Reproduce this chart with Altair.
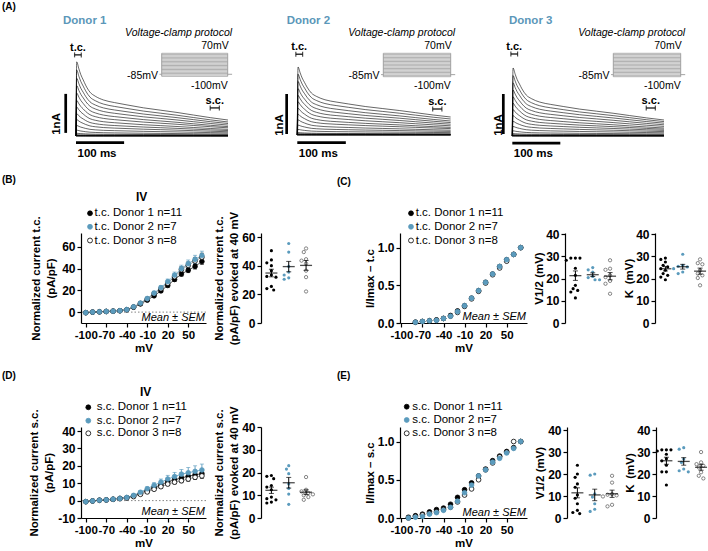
import altair as alt
import pandas as pd

FONT = "Liberation Sans"
BLUE = "#5b9bbd"
TITLE_BLUE = "#5b97b9"
PROTO_GREY = "#9a9a9a"

# ---------------- (A) current families, one per donor ----------------
SWEEP_MV = [-100, -90, -80, -70, -60, -50, -40, -30, -20, -10, 0, 10, 20, 30, 40, 50, 60, 70]
HOLD_MV = -85
STEP_MS = 300
PRE_MS = 10
POST_MS = 20

# peak (transient) and end-of-step (sustained) current of every sweep, nA
D1_PEAK_NA = [0.00, 0.00, 0.01, 0.01, 0.02, 0.03, 0.07, 0.15, 0.27, 0.42, 0.57, 0.74, 0.91, 1.10, 1.29, 1.48, 1.69, 1.90]
D1_END_NA = [0.00, 0.00, 0.00, 0.01, 0.01, 0.02, 0.03, 0.05, 0.08, 0.11, 0.14, 0.17, 0.21, 0.24, 0.28, 0.32, 0.36, 0.41]
D2_PEAK_NA = [0.00, 0.00, 0.01, 0.01, 0.02, 0.03, 0.06, 0.14, 0.25, 0.38, 0.52, 0.67, 0.83, 0.99, 1.16, 1.34, 1.52, 1.70]
D2_END_NA = [0.00, 0.00, 0.00, 0.01, 0.01, 0.02, 0.03, 0.06, 0.09, 0.12, 0.16, 0.19, 0.23, 0.27, 0.31, 0.35, 0.40, 0.45]
D3_PEAK_NA = [0.00, 0.00, 0.01, 0.01, 0.02, 0.03, 0.06, 0.13, 0.24, 0.37, 0.51, 0.66, 0.82, 0.98, 1.15, 1.33, 1.51, 1.70]
D3_END_NA = [0.00, 0.00, 0.00, 0.01, 0.01, 0.02, 0.03, 0.05, 0.08, 0.11, 0.14, 0.17, 0.20, 0.24, 0.28, 0.32, 0.36, 0.40]

# inactivation time course (fraction of the decaying part left), ms
DECAY_MS = [1.5, 6, 10, 15, 20, 29, 40, 57, 80, 106, 140, 175, 210, 244, 280, 316]
DECAY_FRAC = [1.0, 0.88, 0.78, 0.69, 0.60, 0.48, 0.41, 0.345, 0.30, 0.26, 0.21, 0.17, 0.13, 0.086, 0.04, 0.0]

TC_WINDOW_MS = [-3, 11]
SC_WINDOW_MS = [279, 298]
BAR_MS = 100
BAR_NA = 1

# ---------------- (B)/(D) current density vs voltage ----------------
IV_MV = SWEEP_MV
MV_TICKS = [-100, -70, -40, -10, 20, 50]

TC_IV_D1 = [-0.5, 0.0, 0.3, 0.6, 0.9, 1.3, 2.2, 4.5, 7.5, 11.0, 15.0, 19.5, 24.5, 30.0, 35.0, 38.5, 42.0, 46.5]
TC_IV_D2 = [-0.5, 0.0, 0.3, 0.6, 0.9, 1.3, 2.3, 4.9, 8.3, 12.5, 17.5, 22.5, 28.0, 34.0, 40.0, 44.5, 48.5, 52.0]
TC_IV_D3 = [-0.5, 0.0, 0.3, 0.6, 0.9, 1.3, 2.2, 4.7, 8.0, 12.0, 17.0, 21.5, 26.5, 32.5, 39.0, 43.0, 47.0, 50.5]
TC_SEM_D1 = [0.2, 0.2, 0.2, 0.2, 0.2, 0.2, 0.3, 0.5, 0.7, 0.9, 1.1, 1.3, 1.5, 1.8, 2.0, 2.2, 2.4, 2.6]
TC_SEM_D2 = [0.2, 0.2, 0.2, 0.2, 0.2, 0.3, 0.4, 0.7, 1.0, 1.3, 1.7, 2.0, 2.4, 2.8, 3.1, 3.4, 3.7, 4.0]
TC_SEM_D3 = [0.2, 0.2, 0.2, 0.2, 0.2, 0.3, 0.4, 0.6, 0.9, 1.2, 1.5, 1.8, 2.1, 2.4, 2.7, 3.0, 3.3, 3.6]

SC_IV_D1 = [-0.6, -0.2, 0.2, 0.4, 0.8, 1.3, 1.7, 2.7, 4.2, 5.8, 7.5, 9.0, 10.8, 12.0, 13.0, 14.0, 14.8, 15.5]
SC_IV_D2 = [-0.6, -0.2, 0.2, 0.4, 0.8, 1.2, 1.8, 3.0, 4.8, 6.8, 8.8, 10.6, 12.4, 13.8, 15.2, 16.0, 16.8, 17.6]
SC_IV_D3 = [-0.6, -0.2, 0.2, 0.4, 0.7, 1.1, 1.5, 2.3, 3.6, 5.0, 6.5, 8.0, 9.5, 10.6, 11.4, 12.4, 13.4, 14.2]
SC_SEM_D1 = [0.2, 0.2, 0.2, 0.2, 0.2, 0.2, 0.3, 0.4, 0.5, 0.6, 0.7, 0.8, 0.9, 1.0, 1.1, 1.2, 1.3, 1.4]
SC_SEM_D2 = [0.2, 0.2, 0.2, 0.2, 0.2, 0.2, 0.4, 0.6, 0.9, 1.2, 1.5, 1.8, 2.1, 2.4, 2.7, 3.0, 3.2, 3.4]
SC_SEM_D3 = [0.2, 0.2, 0.2, 0.2, 0.2, 0.2, 0.3, 0.4, 0.5, 0.6, 0.7, 0.8, 0.9, 1.0, 1.1, 1.2, 1.3, 1.4]

# ---------------- (C)/(E) normalised activation ----------------
TC_NORM_MV = [-80, -70, -60, -50, -40, -30, -20, -10, 0, 10, 20, 30, 40, 50, 60, 70]
TC_NORM_D1 = [0.01, 0.02, 0.03, 0.04, 0.06, 0.10, 0.16, 0.23, 0.33, 0.43, 0.54, 0.65, 0.75, 0.84, 0.91, 1.00]
TC_NORM_D2 = [0.01, 0.02, 0.03, 0.035, 0.06, 0.09, 0.15, 0.23, 0.33, 0.43, 0.54, 0.65, 0.75, 0.84, 0.91, 1.00]
TC_NORM_D3 = [0.01, 0.02, 0.03, 0.04, 0.06, 0.09, 0.14, 0.22, 0.32, 0.42, 0.53, 0.64, 0.73, 0.82, 0.91, 1.00]

SC_NORM_MV = [-90, -80, -70, -60, -50, -40, -30, -20, -10, 0, 10, 20, 30, 40, 50, 60, 70]
SC_NORM_D1 = [0.01, 0.03, 0.05, 0.08, 0.11, 0.13, 0.18, 0.27, 0.37, 0.46, 0.55, 0.64, 0.75, 0.81, 0.87, 0.92, 1.00]
SC_NORM_D2 = [0.00, 0.01, 0.02, 0.05, 0.07, 0.10, 0.14, 0.22, 0.33, 0.43, 0.55, 0.63, 0.73, 0.78, 0.85, 0.91, 1.00]
SC_NORM_D3 = [0.00, 0.02, 0.04, 0.06, 0.08, 0.11, 0.14, 0.21, 0.30, 0.38, 0.50, 0.63, 0.72, 0.80, 0.86, 1.00, 1.00]

# ---------------- per-cell values ----------------
TC40_D1 = [50.5, 44.0, 42.0, 40.0, 36.5, 33.5, 32.5, 32.0, 25.5, 24.0, 23.0]
TC40_D2 = [55.5, 49.5, 39.5, 35.5, 33.5, 31.5, 30.5]
TC40_D3 = [52.0, 49.5, 44.5, 43.5, 41.5, 36.5, 32.0, 22.0]
TC_V12_D1 = [29.3, 29.3, 29.3, 28.3, 24.7, 21.5, 17.0, 15.5, 14.7, 14.0, 11.3]
TC_V12_D2 = [25.0, 24.0, 23.0, 21.0, 19.5, 19.5, 20.5]
TC_V12_D3 = [28.3, 24.5, 24.0, 21.5, 20.7, 19.0, 17.7, 13.2]
TC_K_D1 = [29.3, 28.7, 27.5, 26.0, 25.3, 24.5, 23.8, 22.3, 21.5, 20.7, 19.5]
TC_K_D2 = [31.0, 26.0, 25.6, 25.3, 24.5, 23.0, 22.3]
TC_K_D3 = [28.7, 27.0, 26.5, 23.8, 22.3, 21.5, 20.3, 17.0]

SC40_D1 = [18.7, 18.3, 17.3, 14.3, 13.6, 12.4, 9.2, 8.5, 8.0, 7.0, 6.6]
SC40_D2 = [23.0, 21.5, 19.5, 15.0, 13.0, 10.5, 6.0]
SC40_D3 = [18.0, 12.4, 11.7, 11.0, 10.4, 10.0, 9.2, 8.0]
SC_V12_D1 = [24.0, 20.0, 18.5, 15.5, 14.0, 10.5, 9.0, 6.5, 3.5, 2.5, 2.0]
SC_V12_D2 = [20.0, 19.5, 11.0, 9.5, 6.5, 4.0, 3.0]
SC_V12_D3 = [19.2, 16.1, 10.9, 10.6, 10.3, 9.8, 6.0, 5.3]
SC_K_D1 = [31.0, 31.0, 31.0, 30.5, 29.0, 27.0, 26.0, 24.0, 21.0, 21.0, 15.0]
SC_K_D2 = [32.0, 31.3, 26.8, 25.3, 22.3, 21.5, 21.0]
SC_K_D3 = [30.0, 25.3, 24.5, 23.8, 23.0, 20.8, 19.2, 18.0]

DUMMY = pd.DataFrame({"k": [0]})
DONOR_FILL = {1: "black", 2: BLUE, 3: "white"}
DONOR_EDGE = {1: "black", 2: BLUE, 3: "black"}
DONOR_LINE = {1: "#222222", 2: BLUE, 3: "#888888"}
PLAIN_NUMBER = "datum.value"   # hyphen-minus instead of the typographic minus


def label(text, x, y, size=12, weight="bold", align="left", baseline="middle",
          color="black", style="normal", angle=None):
    kw = dict(text=text, font=FONT, fontSize=size, fontWeight=weight, align=align,
              baseline=baseline, color=color, fontStyle=style)
    if angle is not None:
        kw["angle"] = angle
    return alt.Chart(DUMMY).mark_text(**kw).encode(x=alt.value(x), y=alt.value(y))


def frame(box):
    """Invisible rectangle that fixes the footprint of a panel in the layout."""
    x0, x1, y0, y1 = box
    return alt.Chart(DUMMY).mark_rect(opacity=0).encode(
        x=alt.value(x0), x2=alt.value(x1), y=alt.value(y0), y2=alt.value(y1))


def lead_cell():
    return alt.layer(frame([0, 1, 0, 1])).properties(width=1, height=1)


# ---------------- trace panels ----------------
TRACE_LAYOUT = {
    1: dict(xdom=[-158.0, 332.6], ydom=[-0.615, 3.487], hbar=-0.172, vbar_t=-21.4, vbar_y=0.08,
            na_t=-39.5, na_y=0.31, ms_y=-0.46, tc_y=2.08, sc_y=0.72, title_x=63,
            inset_x=[161.7, 227.7], inset_y=[76.3, 53.3]),
    2: dict(xdom=[-126.3, 360.0], ydom=[-0.625, 3.375], hbar=-0.19, vbar_t=-21.9, vbar_y=0.025,
            na_t=-35.7, na_y=0.25, ms_y=-0.475, tc_y=2.02, sc_y=0.65, title_x=50.7,
            inset_x=[147.3, 214.7], inset_y=[76.7, 53.3]),
    3: dict(xdom=[-84.0, 407.7], ydom=[-0.6, 3.4], hbar=-0.18, vbar_t=-18.75, vbar_y=0.05,
            na_t=-27.0, na_y=0.275, ms_y=-0.45, tc_y=2.05, sc_y=0.70, title_x=37,
            inset_x=[141.3, 208.7], inset_y=[76.7, 53.3]),
}


def trace_panel(donor, peaks, ends):
    cfg = TRACE_LAYOUT[donor]
    xs = alt.Scale(domain=cfg["xdom"], nice=False, zero=False)
    ys = alt.Scale(domain=cfg["ydom"], nice=False, zero=False)

    def X(f):
        return alt.X(f, scale=xs, axis=None)

    def Y(f):
        return alt.Y(f, scale=ys, axis=None)

    rows = []
    for mv, pk, en in zip(SWEEP_MV, peaks, ends):
        rows.append({"sweep": mv, "t": 0.0, "i": 0.0})
        for t, f in zip(DECAY_MS, DECAY_FRAC):
            rows.append({"sweep": mv, "t": t, "i": en + (pk - en) * f})
    tr = pd.DataFrame(rows)
    traces = alt.Chart(tr).mark_line(color="black", strokeWidth=0.6, interpolate="monotone").encode(
        x=X("t:Q"), y=Y("i:Q"), detail="sweep:N", order="t:Q")

    hb = pd.DataFrame({"t0": [0], "t1": [BAR_MS], "y": [cfg["hbar"]]})
    hbar = alt.Chart(hb).mark_rule(color="black", strokeWidth=2.7).encode(x=X("t0:Q"), x2="t1:Q", y=Y("y:Q"))
    vb = pd.DataFrame({"t": [cfg["vbar_t"]], "y0": [cfg["vbar_y"]], "y1": [cfg["vbar_y"] + BAR_NA]})
    vbar = alt.Chart(vb).mark_rule(color="black", strokeWidth=2.7).encode(x=X("t:Q"), y=Y("y0:Q"), y2="y1:Q")
    na_lab = alt.Chart(pd.DataFrame({"t": [cfg["na_t"]], "y": [cfg["na_y"]], "s": [f"{BAR_NA}nA"]})).mark_text(
        font=FONT, fontSize=11.5, fontWeight="bold", angle=270, align="center", baseline="middle").encode(
        x=X("t:Q"), y=Y("y:Q"), text="s:N")
    ms_lab = alt.Chart(pd.DataFrame({"t": [0], "y": [cfg["ms_y"]], "s": [f"{BAR_MS} ms"]})).mark_text(
        font=FONT, fontSize=11.5, fontWeight="bold", align="left", baseline="middle", dx=1.5).encode(
        x=X("t:Q"), y=Y("y:Q"), text="s:N")

    win = pd.DataFrame({"t0": [TC_WINDOW_MS[0], SC_WINDOW_MS[0]], "t1": [TC_WINDOW_MS[1], SC_WINDOW_MS[1]],
                        "y": [cfg["tc_y"], cfg["sc_y"]], "s": ["t.c.", "s.c."]})
    win["tm"] = (win["t0"] + win["t1"]) / 2
    wrule = alt.Chart(win).mark_rule(color="black", strokeWidth=1.2).encode(x=X("t0:Q"), x2="t1:Q", y=Y("y:Q"))
    wcap0 = alt.Chart(win).mark_tick(orient="vertical", size=5, thickness=1.2, color="black").encode(
        x=X("t0:Q"), y=Y("y:Q"))
    wcap1 = alt.Chart(win).mark_tick(orient="vertical", size=5, thickness=1.2, color="black").encode(
        x=X("t1:Q"), y=Y("y:Q"))
    wtxt = alt.Chart(win).mark_text(font=FONT, fontSize=11, fontWeight="bold", dy=-7).encode(
        x=X("tm:Q"), y=Y("y:Q"), text="s:N")

    main_layers = [frame([0, 236, 0, 160]), traces, hbar, vbar, na_lab, ms_lab, wrule, wcap0, wcap1, wtxt,
                   label(f"Donor {donor}", cfg["title_x"], 21, size=11.5, color=TITLE_BLUE)]
    if donor == 1:
        main_layers.append(label("(A)", 2, 7, size=10))
    main = alt.layer(*main_layers)

    # voltage-clamp protocol schematic
    ixs = alt.Scale(domain=[0, STEP_MS], range=cfg["inset_x"], nice=False, zero=False)
    iys = alt.Scale(domain=[min(SWEEP_MV), max(SWEEP_MV)], range=cfg["inset_y"], nice=False, zero=False)

    def IX(f):
        return alt.X(f, scale=ixs, axis=None)

    def IY(f):
        return alt.Y(f, scale=iys, axis=None)

    steps = pd.DataFrame([{"mv": v, "t": t} for v in SWEEP_MV for t in (0, STEP_MS)])
    step_lines = alt.Chart(steps).mark_line(color=PROTO_GREY, strokeWidth=0.8).encode(
        x=IX("t:Q"), y=IY("mv:Q"), detail="mv:N")
    edges = alt.Chart(pd.DataFrame({"t": [0, STEP_MS], "lo": [min(SWEEP_MV)] * 2, "hi": [max(SWEEP_MV)] * 2})).mark_rule(
        color=PROTO_GREY, strokeWidth=0.9).encode(x=IX("t:Q"), y=IY("lo:Q"), y2="hi:Q")
    hold = pd.DataFrame({"t": [-PRE_MS, 0, STEP_MS, STEP_MS + POST_MS], "mv": [HOLD_MV] * 4, "seg": [0, 0, 1, 1]})
    hold_lines = alt.Chart(hold).mark_line(color=PROTO_GREY, strokeWidth=0.9).encode(
        x=IX("t:Q"), y=IY("mv:Q"), detail="seg:N")

    def ptext(s, t, mv, align, dx=0, dy=0, style="normal"):
        return alt.Chart(pd.DataFrame({"t": [t], "mv": [mv], "s": [s]})).mark_text(
            font=FONT, fontSize=10.5, align=align, baseline="middle", dx=dx, dy=dy, fontStyle=style).encode(
            x=IX("t:Q"), y=IY("mv:Q"), text="s:N")

    inset = alt.layer(
        step_lines, edges, hold_lines,
        ptext(f"{max(SWEEP_MV)}mV", STEP_MS, max(SWEEP_MV), "right", dx=1, dy=-7),
        ptext(f"{min(SWEEP_MV)}mV", STEP_MS, min(SWEEP_MV), "right", dy=9.5),
        ptext(f"{HOLD_MV}mV", -PRE_MS, HOLD_MV, "right", dx=-1.5, dy=1.5),
        ptext("Voltage-clamp protocol", STEP_MS + POST_MS, max(SWEEP_MV), "right", dy=-20, style="italic"),
    )
    return alt.layer(main, inset).resolve_scale(x="independent", y="independent").properties(
        width=236, height=160)


# ---------------- IV panels ----------------
def iv_panel(cfg, mv, series, sems, ytitle, names):
    xs = alt.Scale(domain=cfg["xdom"], nice=False, zero=False)
    ys = alt.Scale(domain=cfg["ydom"], nice=False, zero=False)
    xax = alt.Axis(values=MV_TICKS, title="mV", titlePadding=cfg.get("xtp", 2), labelFontSize=11.5,
                   labelExpr=PLAIN_NUMBER)
    if cfg["yfmt"] == "d":
        yax = alt.Axis(values=cfg["yticks"], labelExpr=PLAIN_NUMBER, title=ytitle,
                       titlePadding=cfg["ytp"], titleLineHeight=15)
    else:
        yax = alt.Axis(values=cfg["yticks"], format=cfg["yfmt"], title=ytitle,
                       titlePadding=cfg["ytp"], titleLineHeight=15)

    def X(f):
        return alt.X(f, scale=xs, axis=xax)

    def Y(f):
        return alt.Y(f, scale=ys, axis=yax)

    layers = [frame(cfg["box"])]
    if cfg["zero"]:
        layers.append(alt.Chart(pd.DataFrame({"z": [0]})).mark_rule(
            color="#777777", strokeDash=[1.5, 2], strokeWidth=0.9).encode(y=Y("z:Q")))
    frames = {}
    for k in (1, 2, 3):
        df = pd.DataFrame({"mv": mv, "m": series[k - 1]})
        if sems is not None:
            df["lo"] = [a - b for a, b in zip(series[k - 1], sems[k - 1])]
            df["hi"] = [a + b for a, b in zip(series[k - 1], sems[k - 1])]
        frames[k] = df
    if cfg["lines"]:
        for k in (1, 2, 3):
            layers.append(alt.Chart(frames[k]).mark_line(color=DONOR_LINE[k], strokeWidth=0.8).encode(
                x=X("mv:Q"), y=Y("m:Q")))
    if sems is not None:
        for k in (1, 3, 2):
            col = BLUE if k == 2 else "black"
            layers.append(alt.Chart(frames[k]).mark_rule(color=col, strokeWidth=0.9).encode(
                x=X("mv:Q"), y=Y("lo:Q"), y2="hi:Q"))
            for f in ("lo", "hi"):
                layers.append(alt.Chart(frames[k]).mark_tick(orient="horizontal", size=4, thickness=0.9,
                                                             color=col).encode(x=X("mv:Q"), y=Y(f"{f}:Q")))
    for k in (1, 3, 2):
        layers.append(alt.Chart(frames[k]).mark_circle(size=22, opacity=1, fill=DONOR_FILL[k],
                                                       stroke=DONOR_EDGE[k], strokeWidth=0.8).encode(
            x=X("mv:Q"), y=Y("m:Q")))
    # legend
    sx, tx = cfg["leg_x"]
    for k, ly in zip((1, 2, 3), cfg["leg_y"]):
        layers.append(alt.Chart(DUMMY).mark_circle(size=24, opacity=1, fill=DONOR_FILL[k],
                                                   stroke=DONOR_EDGE[k], strokeWidth=0.8).encode(
            x=alt.value(sx), y=alt.value(ly)))
        layers.append(label(names[k - 1], tx, ly, size=11.5, weight="normal"))
    layers.append(label("Mean \u00b1 SEM", cfg["w"] - 1, cfg["mean_y"], size=11, weight="normal",
                        align="right", style="italic"))
    if "iv" in cfg:
        layers.append(label("IV", cfg["iv"][0], cfg["iv"][1], size=12, align="center"))
    layers.append(label(cfg["letter"], cfg["letter_xy"][0], cfg["letter_xy"][1], size=10))
    return alt.layer(*layers).properties(width=cfg["w"], height=cfg["h"])


# ---------------- per-cell scatter panels ----------------
GROUP_DOM = [-0.6, 2.4]
SCATTER_W = 52


def swarm_offsets(values, y_px, x_px, diam=3.8):
    order = sorted(range(len(values)), key=lambda i: -values[i])
    placed = []
    offsets = [0.0] * len(values)
    for i in order:
        y = values[i] * y_px
        x = 0.0
        for k in (0, -1, 1, -2, 2, -3, 3, -4, 4):
            x = k * diam * 0.6
            if all((x - px) ** 2 + (y - py) ** 2 >= diam ** 2 for px, py in placed):
                break
        placed.append((x, y))
        offsets[i] = x / x_px
    return offsets


def scatter_panel(cfg, groups, ytitle):
    xs = alt.Scale(domain=GROUP_DOM, nice=False, zero=False)
    ys = alt.Scale(domain=cfg["ydom"], nice=False, zero=False)
    yax = alt.Axis(values=cfg["yticks"], format="d", title=ytitle, titlePadding=cfg["ytp"], titleLineHeight=15)
    y_px = cfg["h"] / (cfg["ydom"][1] - cfg["ydom"][0])
    x_px = SCATTER_W / (GROUP_DOM[1] - GROUP_DOM[0])

    def X(f):
        return alt.X(f, scale=xs, axis=None)

    def Y(f):
        return alt.Y(f, scale=ys, axis=yax)

    layers = [frame(cfg["box"])]
    stats = []
    for g, vals in enumerate(groups):
        offs = swarm_offsets(vals, y_px, x_px)
        df = pd.DataFrame({"x": [g + o for o in offs], "v": vals})
        k = g + 1
        if k == 3:
            mk = alt.Chart(df).mark_circle(size=11, opacity=1, fill="white", stroke="#555555", strokeWidth=0.7)
        else:
            mk = alt.Chart(df).mark_circle(size=10, opacity=1, color=DONOR_FILL[k])
        layers.append(mk.encode(x=X("x:Q"), y=Y("v:Q")))
        n = len(vals)
        m = sum(vals) / n
        sd = (sum((v - m) ** 2 for v in vals) / (n - 1)) ** 0.5
        stats.append({"g": g, "m": m, "lo": m - sd / n ** 0.5, "hi": m + sd / n ** 0.5})
    st = pd.DataFrame(stats)
    layers.append(alt.Chart(st).mark_rule(color="black", strokeWidth=1).encode(x=X("g:Q"), y=Y("lo:Q"), y2="hi:Q"))
    for f in ("lo", "hi"):
        layers.append(alt.Chart(st).mark_tick(orient="horizontal", size=5, thickness=1, color="black").encode(
            x=X("g:Q"), y=Y(f"{f}:Q")))
    layers.append(alt.Chart(st).mark_tick(orient="horizontal", size=12, thickness=1.3, color="black").encode(
        x=X("g:Q"), y=Y("m:Q")))
    return alt.layer(*layers).properties(width=SCATTER_W, height=cfg["h"])


def legend_names(prefix, groups):
    return [f"{prefix} Donor {i + 1} n={len(g)}" for i, g in enumerate(groups)]


# ---------------- row A ----------------
row_a = alt.hconcat(
    trace_panel(1, D1_PEAK_NA, D1_END_NA),
    trace_panel(2, D2_PEAK_NA, D2_END_NA),
    trace_panel(3, D3_PEAK_NA, D3_END_NA),
    spacing=0,
)

# ---------------- row B/C (transient current) ----------------
tc_groups = [TC40_D1, TC40_D2, TC40_D3]
B_IV = iv_panel(
    dict(xdom=[-107, 76], ydom=[-10, 72.7], w=125, h=90, yticks=[0, 20, 40, 60], yfmt="d", ytp=5,
         box=[-80, 129, -73, 124], zero=True, lines=True, leg_x=(9, 13.5), leg_y=[-19.7, -6.2, 7.5],
         mean_y=85.3, iv=(60.7, -36.3), letter="(B)", letter_xy=(-79, -53)),
    IV_MV, [TC_IV_D1, TC_IV_D2, TC_IV_D3], [TC_SEM_D1, TC_SEM_D2, TC_SEM_D3],
    ["Normalized current t.c.", "(pA/pF)"], legend_names("t.c.", tc_groups))
B_SC = scatter_panel(dict(ydom=[0, 62.8], h=90, yticks=[0, 20, 40, 60], ytp=2, box=[-51, 74, -73, 124]),
                     tc_groups, ["Normalized current t.c.", "(pA/pF) evoked at 40 mV"])
C_IV = iv_panel(
    dict(xdom=[-102, 79], ydom=[0, 1.194], w=127, h=90, yticks=[0, 0.5, 1.0], yfmt=".1f", ytp=2,
         box=[-65, 132, -73, 124], zero=False, lines=False, leg_x=(11, 15.7), leg_y=[-19.7, -6.2, 7.5],
         mean_y=83.7, letter="(C)", letter_xy=(-63, -51.3)),
    TC_NORM_MV, [TC_NORM_D1, TC_NORM_D2, TC_NORM_D3], None,
    "I/Imax \u2013 t.c", legend_names("t.c.", tc_groups))
C_V = scatter_panel(dict(ydom=[0, 40.6], h=90, yticks=[0, 10, 20, 30, 40], ytp=1, box=[-33, 57, -73, 124]),
                    [TC_V12_D1, TC_V12_D2, TC_V12_D3], "V1/2 (mV)")
C_K = scatter_panel(dict(ydom=[0, 40.6], h=90, yticks=[0, 10, 20, 30, 40], ytp=1, box=[-33, 53, -73, 124]),
                    [TC_K_D1, TC_K_D2, TC_K_D3], "K\u2002(mV)")
row_b = alt.hconcat(lead_cell(), B_IV, B_SC, C_IV, C_V, C_K, spacing=0)

# ---------------- row D/E (sustained current) ----------------
sc_groups = [SC40_D1, SC40_D2, SC40_D3]
D_IV = iv_panel(
    dict(xdom=[-107, 76], ydom=[-10, 42.3], w=125, h=91, yticks=[-10, 0, 10, 20, 30, 40], yfmt="d", ytp=3,
         box=[-80, 129, -70, 124], zero=True, lines=True, leg_x=(7.3, 15.7), leg_y=[-19.7, -6.3, 6.3],
         mean_y=85.3, iv=(64.7, -35.3), letter="(D)", letter_xy=(-79, -51)),
    IV_MV, [SC_IV_D1, SC_IV_D2, SC_IV_D3], [SC_SEM_D1, SC_SEM_D2, SC_SEM_D3],
    ["Normalized current s.c.", "(pA/pF)"], legend_names("s.c.", sc_groups))
D_SC = scatter_panel(dict(ydom=[0, 40], h=91, yticks=[0, 10, 20, 30, 40], ytp=2, box=[-51, 74, -70, 124]),
                     sc_groups, ["Normalized current s.c.", "(pA/pF) evoked at 40 mV"])
E_IV = iv_panel(
    dict(xdom=[-102, 79], ydom=[0, 1.19], w=127, h=91, yticks=[0, 0.5, 1.0], yfmt=".1f", ytp=2,
         box=[-65, 132, -70, 124], zero=False, lines=False, leg_x=(6.7, 12.3), leg_y=[-20.3, -7, 6.3],
         mean_y=86.3, letter="(E)", letter_xy=(-63, -51)),
    SC_NORM_MV, [SC_NORM_D1, SC_NORM_D2, SC_NORM_D3], None,
    "I/Imax \u2013 s.c", legend_names("s.c.", sc_groups))
E_V = scatter_panel(dict(ydom=[0, 41.4], h=91, yticks=[0, 10, 20, 30, 40], ytp=2, box=[-35, 55, -70, 124]),
                    [SC_V12_D1, SC_V12_D2, SC_V12_D3], "V1/2 (mV)")
E_K = scatter_panel(dict(ydom=[0, 41.4], h=91, yticks=[0, 10, 20, 30, 40], ytp=1, box=[-34, 52, -70, 124]),
                    [SC_K_D1, SC_K_D2, SC_K_D3], "K\u2002(mV)")
row_d = alt.hconcat(lead_cell(), D_IV, D_SC, E_IV, E_V, E_K, spacing=0)

chart = alt.vconcat(row_a, row_b, row_d, spacing=0).properties(
    padding=0, background="white"
).configure_view(stroke=None).configure_axis(
    domainColor="black", domainWidth=1.2, tickColor="black", tickWidth=1.2, tickSize=4,
    labelFont=FONT, labelFontSize=12, labelFontWeight="bold", labelColor="black", labelPadding=2,
    titleFont=FONT, titleFontSize=11.5, titleFontWeight="bold", titleColor="black", grid=False,
    labelOverlap=False, labelFlush=False,
)

chart.save("out.html", embed_options={"renderer": "svg", "actions": False})
